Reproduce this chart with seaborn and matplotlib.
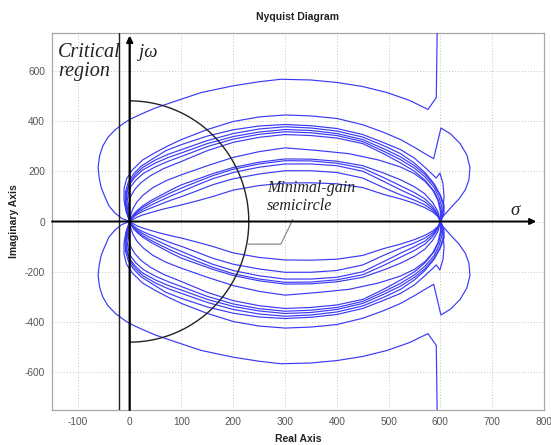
import numpy as np
import pandas as pd
import matplotlib
matplotlib.use("Agg")
import matplotlib.pyplot as plt
import seaborn as sns

# Upper half (positive frequencies) of each Nyquist locus: real / imaginary parts.
curve_outer_re = [0, -15, -28, -40, -48, -55, -59, -61, -58, -52, -42, -28, -12, 0, 25, 50, 90,
                  138, 200, 250, 292, 350, 401, 450, 497, 540, 576, 592, 594]
curve_outer_im = [0, 12, 33, 62, 99, 135, 175, 215, 262, 300, 335, 365, 390, 406, 430, 452, 480,
                  513, 540, 556, 566, 563, 553, 537, 513, 482, 446, 493, 800]

curve_lobe_re = [0, -7, -11, -11, -6, 5, 25, 50, 75, 100, 150, 200, 250, 300, 350, 400, 450, 490,
                 523, 550, 570, 587, 601, 620, 638, 651, 657, 655, 648, 636, 620, 605, 600]
curve_lobe_im = [0, 40, 85, 130, 170, 205, 245, 275, 302, 326, 366, 398, 416, 424, 420, 410, 385,
                 355, 326, 295, 270, 250, 372, 348, 310, 265, 215, 165, 126, 90, 55, 20, 0]

curve_kink_re = [0, -6, -9, -8, -3, 7, 22, 45, 70, 100, 150, 200, 250, 300, 350, 400, 450, 490,
                 523, 550, 572, 592, 599, 605, 607, 605, 602, 600]
curve_kink_im = [0, 40, 80, 120, 155, 188, 220, 250, 282, 306, 340, 365, 380, 386, 381, 370, 346,
                 314, 286, 252, 212, 173, 193, 150, 100, 50, 20, 0]

curve_g3_re = [0, -6, -8, -6, 0, 10, 25, 50, 75, 100, 150, 200, 250, 300, 350, 400, 450, 490,
               523, 550, 570, 588, 600, 607, 607, 603, 600]
curve_g3_im = [0, 40, 80, 120, 155, 185, 215, 245, 268, 286, 322, 350, 368, 377, 372, 360, 336,
               302, 270, 232, 195, 150, 105, 65, 35, 12, 0]

curve_g4_re = [0, -5, -7, -5, 0, 10, 25, 50, 75, 100, 150, 200, 250, 300, 350, 400, 450, 490,
               523, 550, 570, 588, 600, 606, 605, 602, 600]
curve_g4_im = [0, 40, 78, 115, 148, 176, 205, 233, 255, 273, 310, 338, 356, 366, 362, 350, 326,
               290, 257, 222, 188, 145, 100, 60, 30, 10, 0]

curve_g5_re = [0, -4, -5, -3, 2, 12, 27, 50, 75, 100, 150, 200, 250, 300, 350, 400, 450, 490,
               523, 550, 570, 588, 598, 603, 602, 600]
curve_g5_im = [0, 38, 75, 108, 138, 165, 192, 218, 240, 259, 298, 328, 347, 357, 353, 342, 318,
               280, 246, 212, 178, 135, 92, 55, 25, 0]

curve_g6_re = [0, -2, -2, 2, 10, 22, 40, 65, 100, 150, 200, 250, 300, 350, 400, 450, 490, 523,
               550, 570, 588, 597, 601, 600]
curve_g6_im = [0, 35, 68, 100, 128, 155, 182, 210, 239, 282, 315, 335, 346, 342, 332, 310, 270,
               233, 200, 165, 120, 80, 45, 0]

curve_g7_re = [0, 2, 6, 14, 26, 45, 70, 100, 150, 200, 250, 300, 360, 423, 480, 523, 550, 570,
               585, 595, 600, 600]
curve_g7_im = [0, 25, 50, 78, 105, 135, 162, 186, 222, 255, 278, 293, 283, 270, 245, 217, 190,
               160, 125, 85, 40, 0]

inner_re = [0, 3, 8, 15, 25, 40, 60, 80, 100, 130, 160, 200, 250, 300, 350, 400, 450, 490, 523,
            550, 570, 585, 595, 600]
curve_i1_im = [0, 15, 30, 45, 62, 82, 104, 126, 146, 168, 190, 215, 236, 249, 248, 240, 222, 193,
               166, 138, 110, 75, 40, 0]
curve_i2_im = [0, 13, 27, 41, 56, 74, 95, 115, 133, 158, 182, 208, 229, 242, 241, 232, 212, 175,
               142, 115, 90, 60, 30, 0]
curve_i3_im = [0, 11, 23, 35, 48, 64, 83, 102, 119, 145, 170, 195, 216, 229, 229, 222, 200, 160,
               126, 100, 78, 52, 27, 0]
curve_i4_im = [0, 9, 19, 29, 40, 53, 69, 85, 99, 122, 146, 170, 189, 202, 202, 195, 173, 135,
               106, 85, 66, 45, 23, 0]

curve_i5_re = [0, 5, 15, 25, 40, 55, 70, 85, 100, 130, 160, 200, 250, 300, 350, 400, 450, 490,
               523, 550, 570, 585, 595, 600]
curve_i5_im = [0, 7, 18, 26, 35, 44, 52, 59, 66, 82, 99, 125, 143, 153, 154, 150, 135, 108, 90,
               72, 55, 38, 20, 0]

loci = {
    "outer": (curve_outer_re, curve_outer_im),
    "lobe": (curve_lobe_re, curve_lobe_im),
    "kink": (curve_kink_re, curve_kink_im),
    "g3": (curve_g3_re, curve_g3_im),
    "g4": (curve_g4_re, curve_g4_im),
    "g5": (curve_g5_re, curve_g5_im),
    "g6": (curve_g6_re, curve_g6_im),
    "g7": (curve_g7_re, curve_g7_im),
    "i1": (inner_re, curve_i1_im),
    "i2": (inner_re, curve_i2_im),
    "i3": (inner_re, curve_i3_im),
    "i4": (inner_re, curve_i4_im),
    "i5": (curve_i5_re, curve_i5_im),
}

x_ticks = [-100, 0, 100, 200, 300, 400, 500, 600, 700, 800]
y_ticks = [-600, -400, -200, 0, 200, 400, 600]

# Critical-region boundary and minimal-gain semicircle (radii in data units)
critical_re = -20
semi_rx, semi_ry = 230, 480

# Long table: the negative-frequency branch is the complex conjugate.
rows = []
for name, (re, im) in loci.items():
    for k, (a, b) in enumerate(zip(re, im)):
        rows.append({"re": a, "im": b, "unit": name + "+", "k": k})
        rows.append({"re": a, "im": -b, "unit": name + "-", "k": k})
df = pd.DataFrame(rows).sort_values(["unit", "k"])

sns.set_theme(style="white")
plt.rcParams["font.family"] = ["Liberation Sans", "DejaVu Sans"]
plt.rcParams["axes.unicode_minus"] = False

fig = plt.figure(figsize=(5.51, 4.45), dpi=100)
ax = fig.add_axes([52 / 551, 35 / 445, 492 / 551, 377 / 445])

sns.lineplot(data=df, x="re", y="im", units="unit", estimator=None, sort=False,
             color="#3a3af5", lw=0.85, ax=ax, zorder=3)

ax.set_xlim(-150, 800)
ax.set_ylim(-750, 750)
ax.set_xticks(x_ticks)
ax.set_yticks(y_ticks)
ax.grid(True, linestyle=(0, (1, 2)), color="#c4c4c4", lw=0.7, zorder=0)
for s in ax.spines.values():
    s.set_color("#a8a8a8")
    s.set_linewidth(0.9)
ax.tick_params(axis="both", labelsize=7.3, colors="#555555", direction="in",
               length=0, pad=5)

ax.set_title("Nyquist Diagram", fontsize=7.5, fontweight="bold", color="#222222", pad=9)
ax.set_xlabel("Real Axis", fontsize=7.5, fontweight="bold", color="#222222", labelpad=5)
ax.set_ylabel("Imaginary Axis", fontsize=7.5, fontweight="bold", color="#222222", labelpad=4)

# Critical region boundary
ax.plot([critical_re, critical_re], [-750, 750], color="#222222", lw=1.0, zorder=4)

# Imaginary (jω) axis with arrow
ax.annotate("", xy=(0, 740), xytext=(0, -750),
            arrowprops=dict(arrowstyle="-|>", color="black", lw=1.6, mutation_scale=9,
                            shrinkA=0, shrinkB=0), zorder=5)
# Real (σ) axis with arrow
ax.annotate("", xy=(785, 0), xytext=(-150, 0),
            arrowprops=dict(arrowstyle="-|>", color="black", lw=1.4, mutation_scale=9,
                            shrinkA=0, shrinkB=0), zorder=5)

# Minimal-gain semicircle
t = np.linspace(-np.pi / 2, np.pi / 2, 200)
ax.plot(semi_rx * np.cos(t), semi_ry * np.sin(t), color="#222222", lw=1.0, zorder=4)

# Leader line from the label to the semicircle
ax.plot([315, 292, 229], [8, -90, -90], color="#8c8c8c", lw=0.9, zorder=4)

serif = dict(family=["Liberation Serif", "DejaVu Serif"], style="italic", color="#222222")
ax.text(-138, 712, "Critical\nregion", fontsize=14.5, va="top", ha="left",
        linespacing=1.0, **serif)
ax.text(18, 672, "jω", fontsize=13.5, va="center", ha="left", **serif)
ax.text(735, 42, "σ", fontsize=13.5, va="center", ha="left", **serif)
ax.text(265, 96, "Minimal-gain\nsemicircle", fontsize=11.5, va="center", ha="left",
        linespacing=1.15, **serif)

fig.savefig("out.png", dpi=100)
